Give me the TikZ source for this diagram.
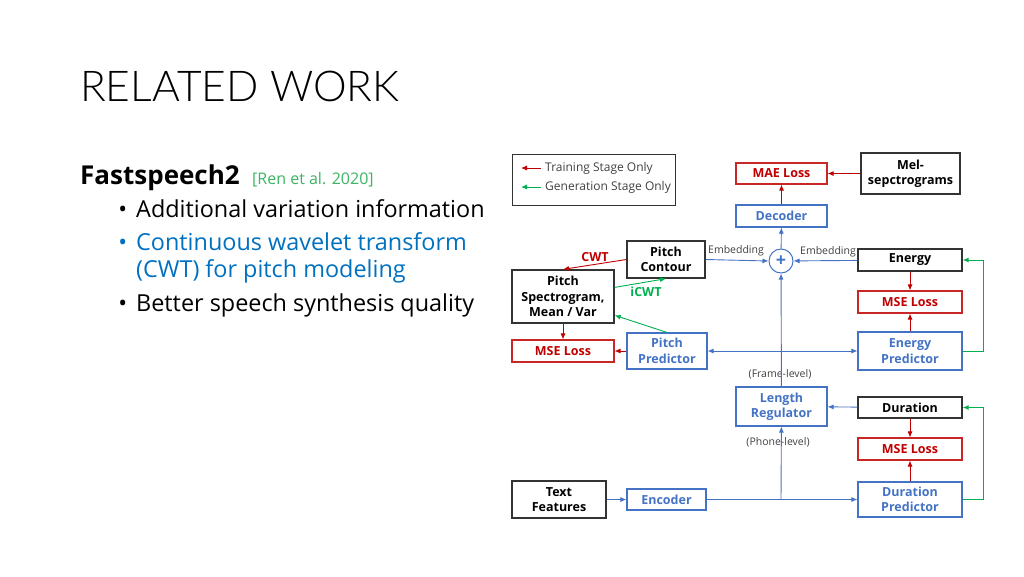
\documentclass[tikz,border=0pt]{standalone}
\usepackage{fontspec}
\setmainfont{Open Sans}
\newfontfamily\titlefont{Lato Light}
\usetikzlibrary{arrows.meta}
\definecolor{lossred}{RGB}{192,0,0}
\definecolor{netblue}{RGB}{68,114,196}
\definecolor{gengreen}{RGB}{0,176,80}
\definecolor{textblue}{RGB}{0,112,192}
\definecolor{refgreen}{RGB}{60,180,100}
\tikzset{
  plain/.style={draw=black!80, line width=1.3pt, inner sep=0pt, align=center,
    font=\fontsize{12.5}{15.5}\selectfont\bfseries},
  loss/.style={plain, draw=lossred!85, text=lossred, line width=1.1pt},
  net/.style={plain, draw=netblue, text=netblue, line width=1.1pt},
  train/.style={draw=lossred, line width=0.9pt, -{Latex[length=6pt,width=5pt]}},
  gen/.style={draw=gengreen, line width=0.9pt, -{Latex[length=6pt,width=5pt]}},
  flow/.style={draw=netblue, line width=0.9pt, -{Latex[length=6pt,width=5pt]}},
  note/.style={font=\fontsize{10.5}{12}\selectfont, text=black!75, inner sep=0pt},
  item/.style={font=\fontsize{23.4}{27}\selectfont, anchor=base west, inner sep=0pt},
}

\begin{document}
\begin{tikzpicture}[x=1pt, y=-1pt]
\useasboundingbox (0,0) rectangle (1024,576);

\node[anchor=base west, inner sep=0pt, font=\titlefont\fontsize{42.5}{48}\selectfont] (title) at (80,101) {RELATED WORK};
\node[anchor=base west, inner sep=0pt, font=\fontsize{26}{30}\selectfont\bfseries] (fs) at (80,184) {Fastspeech2};
\node[anchor=base west, inner sep=0pt, font=\fontsize{16}{18}\selectfont, text=refgreen] (ren) at (252,184) {[Ren et al. 2020]};
\node[item] (b1) at (136,217) {\llap{\textbullet\hspace{9pt}}Additional variation information};
\node[item, text=textblue] (b2) at (136,250) {\llap{\textbullet\hspace{9pt}}Continuous wavelet transform};
\node[item, text=textblue] (b2b) at (136,277) {(CWT) for pitch modeling};
\node[item] (b3) at (136,311) {\llap{\textbullet\hspace{9pt}}Better speech synthesis quality};

\node[plain, line width=1pt, minimum width=163pt, minimum height=51pt] (legend) at (593.5,179.5) {};
\coordinate (trA) at (541,168);
\coordinate (trB) at (521,168);
\coordinate (geA) at (541,187);
\coordinate (geB) at (521,187);
\node[note, font=\fontsize{12}{14}\selectfont, anchor=west] (trtext) at (545,168) {Training Stage Only};
\node[note, font=\fontsize{12}{14}\selectfont, anchor=west] (getext) at (545,187) {Generation Stage Only};
\draw[train] (trA) -- (trB);
\draw[gen] (geA) -- (geB);

\node[loss, minimum width=91pt, minimum height=21pt] (mae) at (781.5,173.5) {MAE Loss};
\node[plain, minimum width=99pt, minimum height=41pt] (mel) at (910.5,173.5) {Mel-\\sepctrograms};
\node[net, minimum width=91pt, minimum height=22pt] (decoder) at (781.5,216) {Decoder};
\node[circle, draw=netblue, line width=1pt, minimum size=24pt, inner sep=0pt, text=netblue,
  font=\fontsize{18}{18}\selectfont\bfseries] (plus) at (781,261) {+};
\node[plain, minimum width=78pt, minimum height=37pt] (contour) at (666,259.5) {Pitch\\Contour};
\node[plain, minimum width=104pt, minimum height=22pt] (energy) at (910,260) {Energy};
\node[plain, minimum width=102pt, minimum height=53pt] (spec) at (563,296.5) {Pitch\\Spectrogram,\\Mean / Var};
\node[loss, minimum width=102pt, minimum height=22pt] (pmse) at (563,351) {MSE Loss};
\node[net, minimum width=80pt, minimum height=36pt] (ppred) at (667,351) {Pitch\\Predictor};
\node[loss, minimum width=104pt, minimum height=22pt] (emse) at (910,302) {MSE Loss};
\node[net, minimum width=104pt, minimum height=38pt] (epred) at (910,351) {Energy\\Predictor};
\node[net, minimum width=91pt, minimum height=39pt] (lenreg) at (781.5,406.5) {Length\\Regulator};
\node[plain, minimum width=104pt, minimum height=21pt] (duration) at (910,407.5) {Duration};
\node[loss, minimum width=104pt, minimum height=22pt] (dmse) at (910,449) {MSE Loss};
\node[net, minimum width=104pt, minimum height=35pt] (dpred) at (910,499.5) {Duration\\Predictor};
\node[plain, minimum width=94pt, minimum height=37pt] (text) at (559,499.5) {Text\\Features};
\node[net, minimum width=79pt, minimum height=21pt] (encoder) at (666.5,499.5) {Encoder};

\node[note, anchor=base] (emb1) at (736,253) {Embedding};
\node[note, anchor=base] (emb2) at (828,254) {Embedding};
\node[note] (frame) at (780,374) {(Frame-level)};
\node[note] (phone) at (778,442) {(Phone-level)};
\node[inner sep=0pt, text=lossred, font=\fontsize{12.5}{14}\selectfont\bfseries] (cwt) at (595,257) {CWT};
\node[inner sep=0pt, text=gengreen, font=\fontsize{12.5}{14}\selectfont\bfseries] (icwt) at (646,292) {iCWT};

\coordinate (fork) at (781,351);
\coordinate (split) at (781,499.5);

\draw[train] (mel) -- (mae);
\draw[train] (decoder) -- (mae);
\draw[flow] (plus) -- (decoder);
\draw[flow] (contour.east) -- (plus.west);
\draw[flow] (energy) -- (plus);
\draw[flow] (lenreg) -- (plus);
\draw[flow] (fork) -- (ppred);
\draw[flow] (fork) -- (epred);
\draw[train] (contour.west) -- (spec.north);
\draw[gen] (spec.10) -- (contour.south);
\draw[gen] (ppred.north) -- (spec.-20);
\draw[train] (spec) -- (pmse);
\draw[train] (ppred) -- (pmse);
\draw[train] (energy) -- (emse);
\draw[train] (epred) -- (emse);
\draw[gen] (epred.east) -- ++(21,0) |- (energy.east);
\draw[flow] (duration) -- (lenreg);
\draw[train] (duration) -- (dmse);
\draw[train] (dpred) -- (dmse);
\draw[gen] (dpred.east) -- ++(21,0) |- (duration.east);
\draw[flow] (text) -- (encoder);
\draw[draw=netblue, line width=0.9pt] (encoder) -- (split);
\draw[flow] (split) -- (lenreg);
\draw[flow] (split) -- (dpred);
\end{tikzpicture}
\end{document}
